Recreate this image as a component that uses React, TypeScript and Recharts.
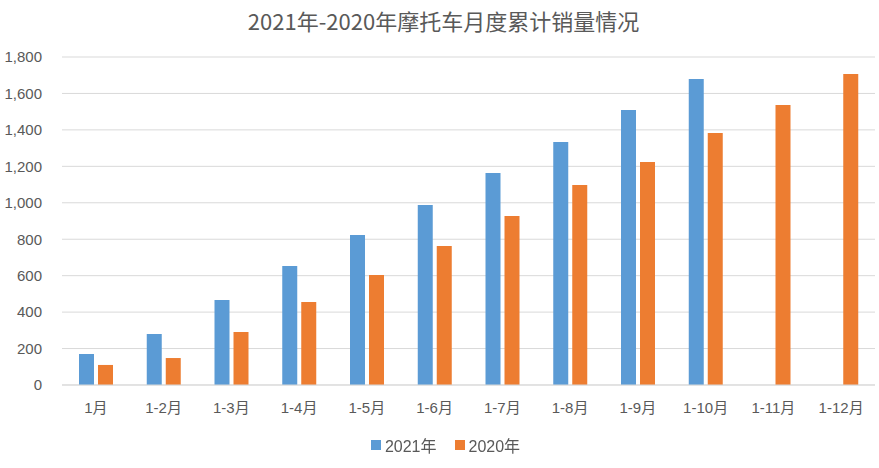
import { Bar, BarChart, CartesianGrid, XAxis, YAxis } from "recharts"

const months = ["1月", "1-2月", "1-3月", "1-4月", "1-5月", "1-6月", "1-7月", "1-8月", "1-9月", "1-10月", "1-11月", "1-12月"]
const sales2021 = [170, 280, 466, 653, 823, 988, 1163, 1334, 1509, 1679, null, null]
const sales2020 = [110, 148, 291, 455, 604, 763, 927, 1098, 1224, 1383, 1537, 1707]
const yTicks = [0, 200, 400, 600, 800, 1000, 1200, 1400, 1600, 1800]
const seriesNames = ["2021年", "2020年"]
const colors = ["#5b9bd5", "#ed7d31"]

const data = months.map((name, i) => ({
  name,
  y2021: sales2021[i],
  y2020: sales2020[i],
}))

const font = "'Liberation Sans', 'Noto Sans CJK SC', sans-serif"
const grey = "#595959"

export default function App() {
  return (
    <div style={{ position: "fixed", left: 0, top: 0, width: 879, height: 468, background: "#fff", fontFamily: font }}>
      <div style={{ position: "absolute", top: 4, left: 4, width: 879, textAlign: "center", fontSize: 22, color: grey, fontFamily: "'Noto Sans CJK SC', sans-serif" }}>
        2021年-2020年摩托车月度累计销量情况
      </div>
      <BarChart
        width={879}
        height={468}
        data={data}
        margin={{ top: 57, right: 4, bottom: 43, left: 0 }}
        barSize={15}
        barGap={4}
      >
        <CartesianGrid stroke="#d9d9d9" vertical={false} />
        <XAxis
          dataKey="name"
          axisLine={{ stroke: "#d9d9d9" }}
          tickLine={false}
          tick={{ fill: grey, fontSize: 15, fontFamily: font }}
          tickMargin={11}
          height={40}
          interval={0}
        />
        <YAxis
          width={62}
          domain={[0, 1800]}
          ticks={yTicks}
          axisLine={false}
          tickLine={false}
          tick={{ fill: grey, fontSize: 15, fontFamily: font }}
          tickMargin={14}
          tickFormatter={(v: number) => v.toLocaleString("en-US")}
        />
        <Bar dataKey="y2021" name={seriesNames[0]} fill={colors[0]} isAnimationActive={false} />
        <Bar dataKey="y2020" name={seriesNames[1]} fill={colors[1]} isAnimationActive={false} />
      </BarChart>
      <div style={{ position: "absolute", top: 433, left: 6, width: 879, display: "flex", justifyContent: "center", gap: 18, fontSize: 16, color: grey }}>
        {seriesNames.map((n, i) => (
          <span key={n} style={{ display: "flex", alignItems: "center" }}>
            <span style={{ width: 10, height: 10, background: colors[i], marginRight: 4, display: "inline-block" }} />
            {n}
          </span>
        ))}
      </div>
    </div>
  )
}
